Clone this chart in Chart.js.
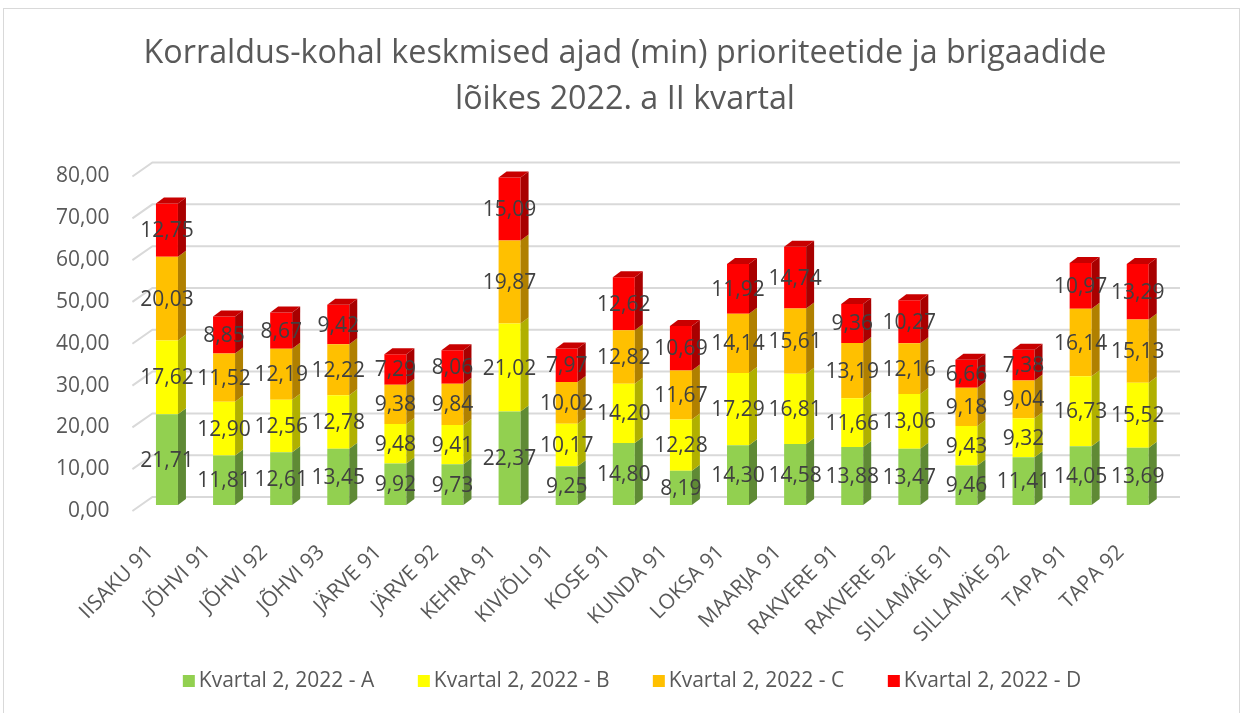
<!DOCTYPE html>
<html>
<head>
<meta charset="utf-8">
<script src="https://cdn.jsdelivr.net/npm/chart.js@4.4.1/dist/chart.umd.min.js"></script>
<style>
  html, body { margin: 0; padding: 0; background: #fff; }
  #wrap { width: 1244px; height: 713px; }
</style>
</head>
<body>
<div id="wrap"><canvas id="chart" width="1244" height="713"></canvas></div>
<script>
// Andmed
const categories = ['IISAKU 91', 'JÕHVI 91', 'JÕHVI 92', 'JÕHVI 93', 'JÄRVE 91', 'JÄRVE 92', 'KEHRA 91', 'KIVIÕLI 91', 'KOSE 91',
  'KUNDA 91', 'LOKSA 91', 'MAARJA 91', 'RAKVERE 91', 'RAKVERE 92', 'SILLAMÄE 91', 'SILLAMÄE 92', 'TAPA 91', 'TAPA 92'];
const seriesA = [21.71, 11.81, 12.61, 13.45, 9.92, 9.73, 22.37, 9.25, 14.80, 8.19, 14.30, 14.58, 13.88, 13.47, 9.46, 11.41, 14.05, 13.69];
const seriesB = [17.62, 12.90, 12.56, 12.78, 9.48, 9.41, 21.02, 10.17, 14.20, 12.28, 17.29, 16.81, 11.66, 13.06, 9.43, 9.32, 16.73, 15.52];
const seriesC = [20.03, 11.52, 12.19, 12.22, 9.38, 9.84, 19.87, 10.02, 12.82, 11.67, 14.14, 15.61, 13.19, 12.16, 9.18, 9.04, 16.14, 15.13];
const seriesD = [12.75, 8.85, 8.67, 9.42, 7.29, 8.06, 15.09, 7.97, 12.62, 10.69, 11.92, 14.74, 9.36, 10.27, 6.66, 7.38, 10.97, 13.29];
const seriesNames = ['Kvartal 2, 2022 - A', 'Kvartal 2, 2022 - B', 'Kvartal 2, 2022 - C', 'Kvartal 2, 2022 - D'];
const yTickValues = [0, 10, 20, 30, 40, 50, 60, 70, 80];
const titleLines = ['Korraldus-kohal keskmised ajad (min) prioriteetide ja brigaadide', 'lõikes 2022. a II kvartal'];

const FONT = "'Open Sans', sans-serif";
const fmt = v => v.toFixed(2).replace('.', ',');

// värvid: esikülg, külg, pealmine
const colors = [
  { front: '#92D050', side: '#5F8A35', top: '#76A83F' },
  { front: '#FFFF00', side: '#B0B000', top: '#D0D000' },
  { front: '#FFC000', side: '#B08000', top: '#D09A00' },
  { front: '#FF0000', side: '#A80000', top: '#C80000' }
];

const depth = { dx: 8, dy: -6 };      // tulba sügavus
const wall = { dx: 20, dy: -14, right: 1180 };  // tagasein

// 3D efekt, andmesildid, pealkiri ja legend
const threeD = {
  id: 'threeD',
  beforeDatasetsDraw(chart) {
    const { ctx, chartArea, scales: { y } } = chart;
    ctx.save();
    ctx.strokeStyle = '#d9d9d9';
    ctx.lineWidth = 2;
    y.ticks.forEach(t => {
      const py = y.getPixelForValue(t.value);
      const x0 = chartArea.left - 6;
      ctx.beginPath();
      ctx.moveTo(x0, py);
      ctx.lineTo(x0 + wall.dx, py + wall.dy);
      ctx.lineTo(wall.right, py + wall.dy);
      ctx.stroke();
    });
    ctx.restore();
  },
  afterDatasetsDraw(chart) {
    const { ctx } = chart;
    const last = chart.data.datasets.length - 1;
    ctx.save();
    chart.data.datasets.forEach((ds, i) => {
      chart.getDatasetMeta(i).data.forEach(bar => {
        const { x, y, base, width } = bar.getProps(['x', 'y', 'base', 'width'], true);
        const l = x - width / 2, r = x + width / 2;
        ctx.fillStyle = colors[i].side;
        ctx.beginPath();
        ctx.moveTo(r, y);
        ctx.lineTo(r + depth.dx, y + depth.dy);
        ctx.lineTo(r + depth.dx, base + depth.dy);
        ctx.lineTo(r, base);
        ctx.closePath();
        ctx.fill();
        if (i === last) {
          ctx.fillStyle = colors[i].top;
          ctx.beginPath();
          ctx.moveTo(l, y);
          ctx.lineTo(l + depth.dx, y + depth.dy);
          ctx.lineTo(r + depth.dx, y + depth.dy);
          ctx.lineTo(r, y);
          ctx.closePath();
          ctx.fill();
        }
      });
    });
    // sildid
    ctx.fillStyle = '#404040';
    ctx.font = '21px ' + FONT;
    ctx.textAlign = 'center';
    ctx.textBaseline = 'middle';
    chart.data.datasets.forEach((ds, i) => {
      chart.getDatasetMeta(i).data.forEach((bar, j) => {
        const { x, y, base } = bar.getProps(['x', 'y', 'base'], true);
        ctx.fillText(fmt(ds.data[j]), x, (y + base) / 2 + 1);
      });
    });
    ctx.restore();
  },
  afterDraw(chart) {
    const { ctx } = chart;
    ctx.save();
    // raam
    ctx.strokeStyle = '#d9d9d9';
    ctx.lineWidth = 1;
    ctx.strokeRect(3.5, 8.5, 1236, 712);
    // pealkiri
    ctx.fillStyle = '#595959';
    ctx.font = '32.3px ' + FONT;
    ctx.textAlign = 'center';
    ctx.textBaseline = 'middle';
    titleLines.forEach((t, i) => ctx.fillText(t, 625, 54 + i * 46));
    // legend
    ctx.font = '21px ' + FONT;
    ctx.textAlign = 'left';
    const step = 235, box = 12, gap = 4, ly = 681;
    const widths = seriesNames.map(n => ctx.measureText(n).width);
    const total = step * 3 + box + gap + widths[3];
    let x = 632 - total / 2;
    seriesNames.forEach((n, i) => {
      ctx.fillStyle = colors[i].front;
      ctx.fillRect(x, ly - box / 2, box, box);
      ctx.fillStyle = '#595959';
      ctx.fillText(n, x + box + gap, ly);
      x += step;
    });
    ctx.restore();
  }
};

const series = [seriesA, seriesB, seriesC, seriesD];

new Chart(document.getElementById('chart'), {
  type: 'bar',
  data: {
    labels: categories,
    datasets: series.map((d, i) => ({
      label: seriesNames[i],
      data: d,
      backgroundColor: colors[i].front,
      borderWidth: 0,
      yAxisID: 'yb',
      barPercentage: 0.385,
      categoryPercentage: 1
    }))
  },
  options: {
    responsive: false,
    animation: false,
    devicePixelRatio: 1,
    layout: { padding: { left: 0, right: 77.7, top: 176.5, bottom: 62 } },
    plugins: {
      legend: { display: false },
      tooltip: { enabled: false },
      title: { display: false }
    },
    scales: {
      x: {
        stacked: true,
        grid: { display: false },
        border: { display: false },
        ticks: {
          color: '#595959',
          font: { family: FONT, size: 21 },
          maxRotation: 45,
          minRotation: 45,
          autoSkip: false,
          labelOffset: -17,
          padding: 21
        },
        afterFit: s => { s.height = 140; }
      },
      y: {
        min: 0,
        max: 80,
        grid: { display: false, drawTicks: false },
        border: { display: false },
        ticks: {
          color: '#595959',
          font: { family: FONT, size: 21 },
          padding: 29,
          callback: v => fmt(v)
        },
        afterBuildTicks: s => { s.ticks = yTickValues.map(v => ({ value: v })); },
        afterFit: s => { s.width = 138.4; }
      },
      yb: {
        display: false,
        stacked: true,
        min: -1.435,
        max: 78.565
      }
    }
  },
  plugins: [threeD]
});
</script>
</body>
</html>
